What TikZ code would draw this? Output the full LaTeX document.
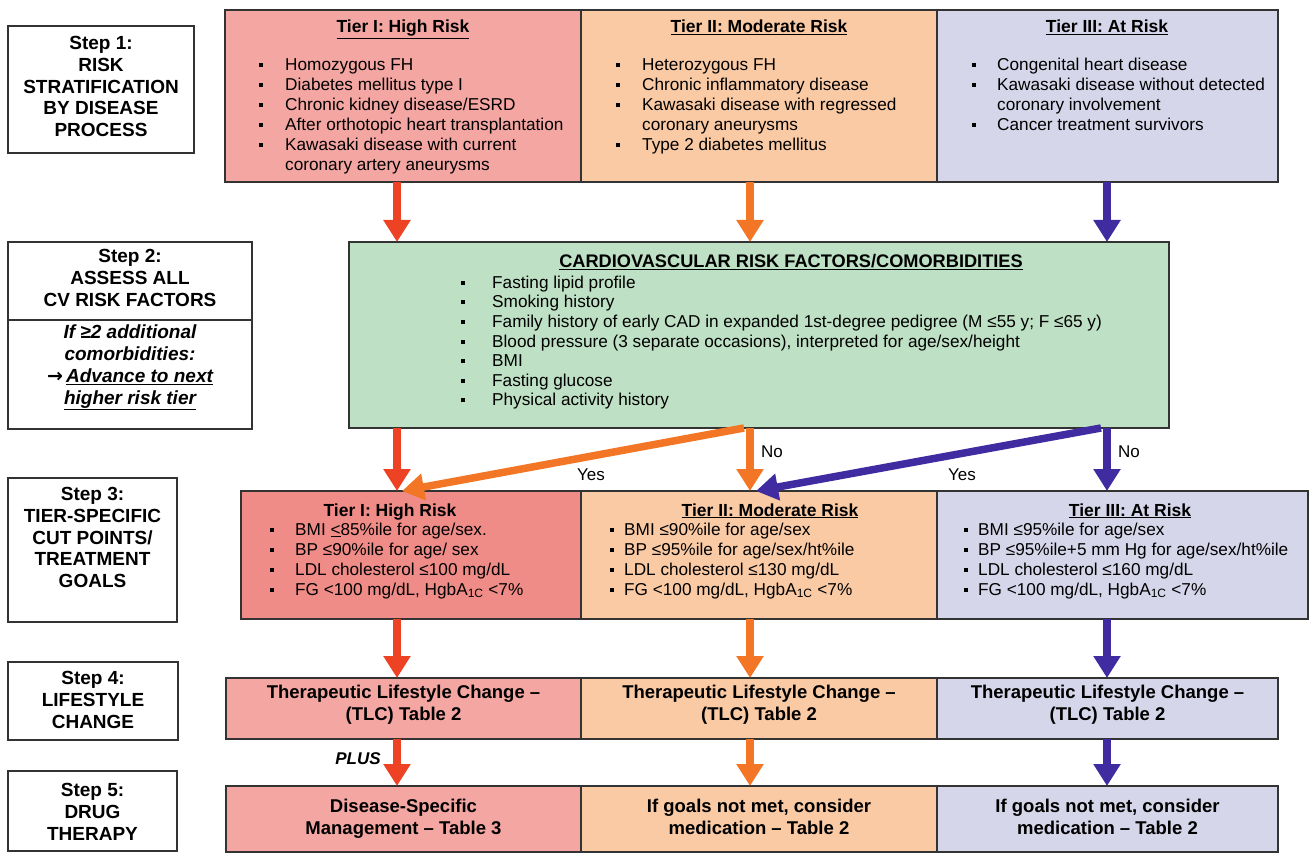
\documentclass[tikz,border=0pt]{standalone}
\usepackage{fontspec}
\setmainfont{Liberation Sans}
\newfontfamily\arrowfont{DejaVu Sans}
\usetikzlibrary{calc,arrows.meta}
\definecolor{highred}{RGB}{244,166,162}
\definecolor{highredd}{RGB}{240,140,136}
\definecolor{modpeach}{RGB}{250,202,164}
\definecolor{atlav}{RGB}{214,214,234}
\definecolor{cvgreen}{RGB}{190,224,196}
\definecolor{arrred}{RGB}{238,66,36}
\definecolor{arrorange}{RGB}{242,118,38}
\definecolor{arrblue}{RGB}{64,44,160}
\newcommand{\sqb}{\rule[0.2em]{4pt}{4pt}}
\tikzset{
% boxes of the chart and the step labels on the left
tier box/.style={draw=black!80,line width=1.5pt,inner sep=0,outer sep=0,anchor=north west},
step box/.style={draw=black!80,line width=1.6pt,fill=white,inner sep=0,outer sep=0,anchor=north west},
step text/.style={anchor=north,align=center,inner sep=0,font=\bfseries\fontsize{19}{21.6}\selectfont},
tier title/.style={anchor=base,inner sep=0,font=\bfseries\fontsize{17.5}{20}\selectfont},
item list/.style={anchor=north west,inner sep=0,font=\fontsize{17.2}{20}\selectfont},
cell text/.style={anchor=north,align=center,inner sep=0,font=\bfseries\fontsize{18.5}{22}\selectfont},
lbl/.style={anchor=base,inner sep=0,font=\fontsize{17}{20}\selectfont},
flow/.style={line width=7.5pt,-{Triangle[width=26pt,length=22pt]}}
}
\begin{document}
\begin{tikzpicture}[x=1pt,y=-1pt]
\useasboundingbox (0,0) rectangle (1312,853);

% step labels
\node[step box,minimum width=186pt,minimum height=127pt] (st1) at (8,26) {};
\node[step text] (st1t) at (101,36.4) {Step 1:\\RISK\\STRATIFICATION\\BY DISEASE\\PROCESS};
\node[step box,minimum width=244pt,minimum height=187pt] (st2) at (8,242) {};
\draw[black!80,line width=1.6pt] (st2.west |- 0,320) -- (st2.east |- 0,320);
\node[step text] (st2t) at (130,249.4) {Step 2:\\ASSESS ALL\\CV RISK FACTORS};
\node[step text,font=\bfseries\itshape\fontsize{19}{21.7}\selectfont] (st2b) at (130,325)
  {If ≥2 additional\\comorbidities:\\{\arrowfont\bfseries →}\,\underline{Advance to next}\\\underline{higher risk tier}};
\node[step box,minimum width=169pt,minimum height=144pt] (st3) at (8,478) {};
\node[step text] (st3t) at (92.5,487.4) {Step 3:\\TIER-SPECIFIC\\CUT POINTS/\\TREATMENT\\GOALS};
\node[step box,minimum width=170pt,minimum height=78pt] (st4) at (8,662) {};
\node[step text] (st4t) at (93,671.4) {Step 4:\\LIFESTYLE\\CHANGE};
\node[step box,minimum width=169pt,minimum height=80pt] (st5) at (8,771) {};
\node[step text] (st5t) at (92.5,783.4) {Step 5:\\DRUG\\THERAPY};

% step 1: tiers
\node[tier box,fill=highred,minimum width=356pt,minimum height=172pt] (t1) at (225,10) {};
\node[tier box,fill=modpeach,minimum width=356pt,minimum height=172pt] (t2) at (581,10) {};
\node[tier box,fill=atlav,minimum width=341pt,minimum height=172pt] (t3) at (937,10) {};
\node[tier title] (t1h) at (403,33) {\underline{Tier I: High Risk}};
\node[tier title] (t2h) at (759,33) {\underline{Tier II: Moderate Risk}};
\node[tier title] (t3h) at (1107,33) {\underline{Tier III: At Risk}};
\node[item list] (t1l) at (259,56) {\begin{tabular}{@{}l@{\hspace{22pt}}l@{}}
\sqb & Homozygous FH\\ \sqb & Diabetes mellitus type I\\ \sqb & Chronic kidney disease/ESRD\\
\sqb & After orthotopic heart transplantation\\ \sqb & Kawasaki disease with current\\
 & coronary artery aneurysms\end{tabular}};
\node[item list] (t2l) at (616,56) {\begin{tabular}{@{}l@{\hspace{22pt}}l@{}}
\sqb & Heterozygous FH\\ \sqb & Chronic inflammatory disease\\ \sqb & Kawasaki disease with regressed\\
 & coronary aneurysms\\ \sqb & Type 2 diabetes mellitus\end{tabular}};
\node[item list] (t3l) at (972,56) {\begin{tabular}{@{}l@{\hspace{21pt}}l@{}}
\sqb & Congenital heart disease\\ \sqb & Kawasaki disease without detected\\
 & coronary involvement\\ \sqb & Cancer treatment survivors\end{tabular}};

% step 2: risk factors
\node[tier box,fill=cvgreen,minimum width=820pt,minimum height=186pt] (cv) at (349,242) {};
\node[tier title,font=\bfseries\fontsize{18.2}{20}\selectfont] (cvh) at (791,267) {\underline{CARDIOVASCULAR RISK FACTORS/COMORBIDITIES}};
\node[item list,font=\fontsize{17.2}{19.6}\selectfont] (cvl) at (461,274.3) {\begin{tabular}{@{}l@{\hspace{27pt}}l@{}}
\sqb & Fasting lipid profile\\ \sqb & Smoking history\\
\sqb & Family history of early CAD in expanded 1st-degree pedigree (M ≤55 y; F ≤65 y)\\
\sqb & Blood pressure (3 separate occasions), interpreted for age/sex/height\\
\sqb & BMI\\ \sqb & Fasting glucose\\ \sqb & Physical activity history\end{tabular}};

% step 3: cut points
\node[tier box,fill=highredd,minimum width=340pt,minimum height=128pt] (s3a) at (241,491) {};
\node[tier box,fill=modpeach,minimum width=356pt,minimum height=128pt] (s3b) at (581,491) {};
\node[tier box,fill=atlav,minimum width=371pt,minimum height=128pt] (s3c) at (937,491) {};
\node[tier title] (s3ah) at (390,516) {Tier I: High Risk};
\node[tier title] (s3bh) at (770,516) {\underline{Tier II: Moderate Risk}};
\node[tier title] (s3ch) at (1130,516) {\underline{Tier III: At Risk}};
\node[item list] (s3al) at (270,521) {\begin{tabular}{@{}l@{\hspace{21pt}}l@{}}
\sqb & BMI \underline{<}85\%ile for age/sex.\\ \sqb & BP ≤90\%ile for age/ sex\\
\sqb & LDL cholesterol ≤100 mg/dL\\ \sqb & FG <100 mg/dL, HgbA\textsubscript{1C} <7\%\end{tabular}};
\node[item list] (s3bl) at (610,521) {\begin{tabular}{@{}l@{\hspace{10pt}}l@{}}
\sqb & BMI ≤90\%ile for age/sex\\ \sqb & BP ≤95\%ile for age/sex/ht\%ile\\
\sqb & LDL cholesterol ≤130 mg/dL\\ \sqb & FG <100 mg/dL, HgbA\textsubscript{1C} <7\%\end{tabular}};
\node[item list] (s3cl) at (964,521) {\begin{tabular}{@{}l@{\hspace{10pt}}l@{}}
\sqb & BMI ≤95\%ile for age/sex\\ \sqb & BP ≤95\%ile+5 mm Hg for age/sex/ht\%ile\\
\sqb & LDL cholesterol ≤160 mg/dL\\ \sqb & FG <100 mg/dL, HgbA\textsubscript{1C} <7\%\end{tabular}};

% step 4 and step 5
\node[tier box,fill=highred,minimum width=355pt,minimum height=61pt] (c4a) at (226,678) {};
\node[tier box,fill=modpeach,minimum width=356pt,minimum height=61pt] (c4b) at (581,678) {};
\node[tier box,fill=atlav,minimum width=341pt,minimum height=61pt] (c4c) at (937,678) {};
\node[cell text] (c4at) at (403.5,684.8) {Therapeutic Lifestyle Change –\\(TLC) Table 2};
\node[cell text] (c4bt) at (759,684.8) {Therapeutic Lifestyle Change –\\(TLC) Table 2};
\node[cell text] (c4ct) at (1107.5,684.8) {Therapeutic Lifestyle Change –\\(TLC) Table 2};
\node[tier box,fill=highred,minimum width=355pt,minimum height=66pt] (c5a) at (226,786) {};
\node[tier box,fill=modpeach,minimum width=356pt,minimum height=66pt] (c5b) at (581,786) {};
\node[tier box,fill=atlav,minimum width=341pt,minimum height=66pt] (c5c) at (937,786) {};
\node[cell text] (c5at) at (403.5,798.8) {Disease-Specific\\Management – Table 3};
\node[cell text] (c5bt) at (759,798.8) {If goals not met, consider\\medication – Table 2};
\node[cell text] (c5ct) at (1107.5,798.8) {If goals not met, consider\\medication – Table 2};

% arrows
\coordinate (colA) at (397,0);
\coordinate (colB) at (750,0);
\coordinate (colC) at (1107,0);
\draw[flow,arrred] (colA |- t1.south) -- (colA |- cv.north);
\draw[flow,arrorange] (colB |- t2.south) -- (colB |- cv.north);
\draw[flow,arrblue] (colC |- t3.south) -- (colC |- cv.north);
\draw[flow,arrred] (colA |- cv.south) -- (colA |- s3a.north);
\draw[flow,arrorange] (colB |- cv.south) -- (colB |- s3b.north);
\draw[flow,arrblue] (colC |- cv.south) -- (colC |- s3c.north);
\draw[flow,arrorange] ($(colB |- cv.south)+(-6,0)$) -- ($(colA |- s3a.north)+(5,0)$);
\draw[flow,arrblue] ($(colC |- cv.south)+(-6,0)$) -- ($(colB |- s3b.north)+(6,0)$);
\draw[flow,arrred] (colA |- s3a.south) -- (colA |- c4a.north);
\draw[flow,arrorange] (colB |- s3b.south) -- (colB |- c4b.north);
\draw[flow,arrblue] (colC |- s3c.south) -- (colC |- c4c.north);
\draw[flow,arrred] (colA |- c4a.south) -- (colA |- c5a.north);
\draw[flow,arrorange] (colB |- c4b.south) -- (colB |- c5b.north);
\draw[flow,arrblue] (colC |- c4c.south) -- (colC |- c5c.north);

\node[lbl] (yes1) at (591,480) {Yes};
\node[lbl] (no1) at (772,457) {No};
\node[lbl] (yes2) at (962,480) {Yes};
\node[lbl] (no2) at (1129,457) {No};
\node[lbl,font=\bfseries\itshape\fontsize{17}{18}\selectfont] (plus) at (358,764) {PLUS};
\end{tikzpicture}
\end{document}
